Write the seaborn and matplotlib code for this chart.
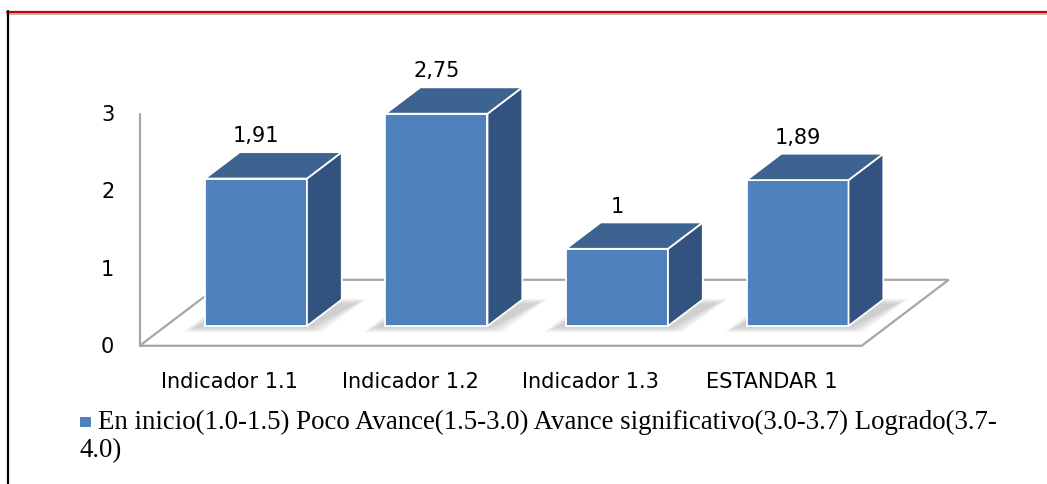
# 3D-looking column chart: average score per indicator (Excel style)

import seaborn as sns
import matplotlib.pyplot as plt
from matplotlib.patches import Polygon, Rectangle
from matplotlib.lines import Line2D

# data
categories = ["Indicador 1.1", "Indicador 1.2", "Indicador 1.3", "ESTANDAR 1"]
values = [1.91, 2.75, 1.0, 1.89]
value_labels = ["1,91", "2,75", "1", "1,89"]
y_ticks = [0, 1, 2, 3]
legend_label = "En inicio(1.0-1.5) Poco Avance(1.5-3.0) Avance significativo(3.0-3.7) Logrado(3.7-4.0)"

# colours
FRONT = "#4F81BD"
TOP = "#3D6390"
SIDE = "#32537F"
GRID = "#A6A6A6"

# depth of the floor / bars, in data units
FLOOR_DX, FLOOR_DY = 0.482, 0.855
BAR_FRAC = 0.40
BAR_DX, BAR_DY = FLOOR_DX * BAR_FRAC, FLOOR_DY * BAR_FRAC
FRONT_OFF = (1 - BAR_FRAC) / 2

sns.set_style("white")
plt.rcParams["font.family"] = ["DejaVu Sans"]
plt.rcParams["text.color"] = "black"

fig = plt.figure(figsize=(10.47, 4.85), dpi=100)
ax = fig.add_axes([0, 0, 1, 1])

sns.barplot(x=categories, y=values, color=FRONT, saturation=1, width=0.565,
            edgecolor="white", linewidth=1.3, ax=ax, zorder=3)

ax.set_xlim(-1.418, 4.382)
ax.set_ylim(-2.047, 4.236)
ax.axis("off")

# floor
lo, hi = -0.5, len(categories) - 0.5
fx0 = lo - FRONT_OFF * FLOOR_DX
fx1 = hi - FRONT_OFF * FLOOR_DX
fy = -FRONT_OFF * FLOOR_DY
floor = [(fx0, fy), (fx1, fy), (fx1 + FLOOR_DX, fy + FLOOR_DY), (fx0 + FLOOR_DX, fy + FLOOR_DY)]
ax.add_patch(Polygon(floor, closed=True, facecolor="none", edgecolor=GRID, lw=1.6, zorder=1))

# value axis
ax.plot([fx0, fx0], [fy, fy + max(y_ticks)], color=GRID, lw=1.6, zorder=1)
for t in y_ticks:
    ax.text(fx0 - 0.14, fy + t, str(t), ha="right", va="center", fontsize=15)

# category labels on the front edge of the floor
for i, c in enumerate(categories):
    ax.text(i - FRONT_OFF * FLOOR_DX, fy - 0.45, c, ha="center", va="center", fontsize=15)

# bar tops, sides, shadows and labels
for bar, lab in zip(ax.patches, value_labels):
    x0, w, h = bar.get_x(), bar.get_width(), bar.get_height()
    x1 = x0 + w
    for k in range(6):
        e = 0.012 * k
        foot = [(x0 - 0.06 - e, -0.02 - e), (x1 + 0.02 + e, -0.02 - e),
                (x1 + BAR_DX + 0.08 + e, BAR_DY - 0.05 + e), (x0 + BAR_DX - 0.02 - e, BAR_DY - 0.05 + e)]
        ax.add_patch(Polygon(foot, closed=True, facecolor="#808080", edgecolor="none",
                             alpha=0.07, zorder=2))
    top = [(x0, h), (x1, h), (x1 + BAR_DX, h + BAR_DY), (x0 + BAR_DX, h + BAR_DY)]
    side = [(x1, 0), (x1 + BAR_DX, BAR_DY), (x1 + BAR_DX, h + BAR_DY), (x1, h)]
    ax.add_patch(Polygon(side, closed=True, facecolor=SIDE, edgecolor="white", lw=1.3, zorder=3))
    ax.add_patch(Polygon(top, closed=True, facecolor=TOP, edgecolor="white", lw=1.3, zorder=3))
    ax.text(x0 + w / 2, h + 0.56, lab, ha="center", va="center", fontsize=15)

# legend (wraps onto a second line)
first, rest = legend_label[:-4], legend_label[-4:]
fig.add_artist(Rectangle((80 / 1047, 1 - 428 / 485), 11 / 1047, 10 / 485,
                         facecolor=FRONT, edgecolor="none", transform=fig.transFigure))
fig.text(98 / 1047, 1 - 422 / 485, first, ha="left", va="center", fontsize=19.4,
         family=["Liberation Serif"])
fig.text(80 / 1047, 1 - 451 / 485, rest, ha="left", va="center", fontsize=19.4,
         family=["Liberation Serif"])

# frame
fig.add_artist(Line2D([7 / 1047, 1], [1 - 12.6 / 485] * 2, color="#CC0000", lw=1.6,
                      transform=fig.transFigure))
fig.add_artist(Line2D([7 / 1047, 1], [1 - 14.6 / 485] * 2, color="#A0A0A0", lw=1.1,
                      transform=fig.transFigure))
fig.add_artist(Line2D([8.3 / 1047] * 2, [0, 1 - 12 / 485], color="black", lw=1.6,
                      transform=fig.transFigure))

fig.savefig("out.png", dpi=100)
